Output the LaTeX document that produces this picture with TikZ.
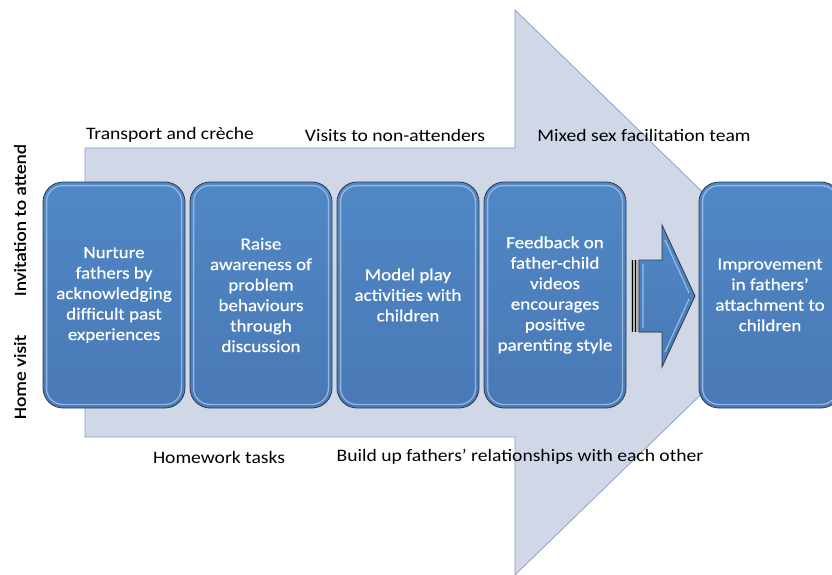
\documentclass[tikz,border=0pt]{standalone}
\usepackage{fontspec}
\setmainfont{Carlito}[FakeStretch=1.12]
\newfontfamily\boxfont{Carlito}[FakeStretch=1.12,FakeBold=0.6]
\newfontfamily\vfont{Carlito}[FakeStretch=1.15,FakeBold=0.8]
\definecolor{bigfill}{HTML}{D0D8E8}
\definecolor{bigline}{HTML}{7F9DC8}
\definecolor{cardtop}{HTML}{5087C5}
\definecolor{cardbot}{HTML}{4979B6}
\definecolor{cardline}{HTML}{333B45}
\definecolor{hilite}{HTML}{A9CBEF}
\begin{document}
\begin{tikzpicture}[x=1pt,y=-1pt,
  lbl/.style={font=\fontsize{17.5}{20}\selectfont, inner sep=0pt, text=black},
  vlbl/.style={font=\vfont\fontsize{17}{20}\selectfont, inner sep=0pt, rotate=90, text=black},
  card/.style={draw=cardline, line width=0.8pt, rounded corners=20pt,
    top color=cardtop, bottom color=cardbot, minimum width=142pt, minimum height=226pt,
    font=\boxfont\fontsize{17}{20.5}\selectfont, text=white, align=center, inner sep=0pt},
  hl/.style={draw=hilite, line width=1.3pt, rounded corners=16pt, opacity=0.75}
]
\useasboundingbox (0,0) rectangle (832,575);
\clip (0,0) rectangle (832,575);

% large background arrow
\filldraw[fill=bigfill, draw=bigline, line width=0.7pt]
  (85,148) -- (515,148) -- (515,10) -- (806,292.5) -- (515,575) -- (515,437) -- (85,437) -- cycle;

% labels above and below
\node[lbl] (t1) at (170,135) {Transport and crèche};
\node[lbl] (t2) at (395,135) {Visits to non-attenders};
\node[lbl] (t3) at (644,135) {Mixed sex facilitation team};
\node[lbl] (b1l) at (219,457) {Homework tasks};
\node[lbl] (b2l) at (520,457) {Build up fathers’ relationships with each other};

% vertical labels
\node[vlbl] (v1) at (20,220) {Invitation to attend};
\node[vlbl] (v2) at (20,377) {Home visit};

% cards
\node[card] (c1) at (114,295) {Nurture\\fathers by\\acknowledging\\difficult past\\experiences};
\node[card] (c2) at (261,295) {Raise\\awareness of\\problem\\behaviours\\through\\discussion};
\node[card] (c3) at (408,295) {Model play\\activities with\\children};
\node[card] (c4) at (555,295) {Feedback on\\father-child\\videos\\encourages\\positive\\parenting style};
\node[card] (c5) at (770,295) {Improvement\\in fathers’\\attachment to\\children};
\foreach \c in {c1,c2,c3,c4,c5}{
  \draw[hl] ([shift={(4,4)}]\c.north west) rectangle ([shift={(-4,-4)}]\c.south east);
}

% small striped arrow
\coordinate (sa) at (631,260);
\fill[gray!60] (631,260) rectangle (639,332);
\draw[black, line width=0.9pt] (632,260) -- (632,332);
\draw[black, line width=0.9pt] (635.5,260) -- (635.5,332);
\filldraw[draw=cardline, line width=0.8pt, top color=cardtop, bottom color=cardbot]
  (639,260) -- (662,260) -- (662,225) -- (695,296) -- (662,367) -- (662,332) -- (639,332) -- cycle;
\draw[hilite, line width=1.2pt, opacity=0.8] (665,240) -- (689,293) (689,299) -- (665,352) (643,264) -- (643,328);
\end{tikzpicture}
\end{document}
